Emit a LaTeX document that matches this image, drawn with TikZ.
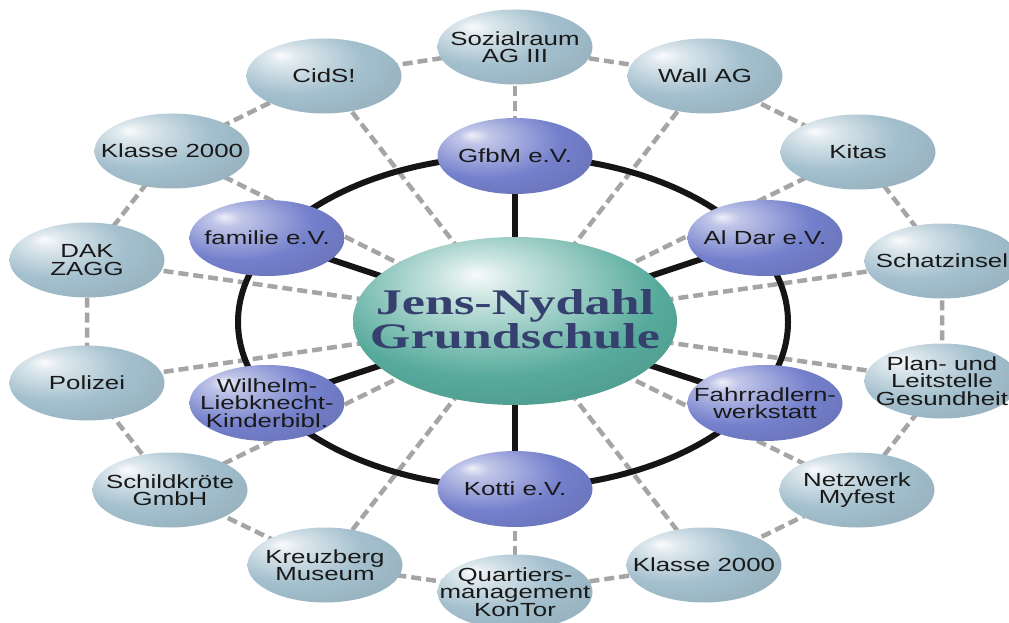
\documentclass[tikz,border=0pt]{standalone}
\usepackage{fontspec}
\setsansfont{Liberation Sans}[FakeStretch=1.36]
\newfontfamily\titlefont{Liberation Serif}[FakeStretch=1.45]
\usetikzlibrary{shapes.geometric}
\definecolor{oc}{RGB}{164,192,206}
\definecolor{ic}{RGB}{116,128,204}
\definecolor{cc}{RGB}{86,170,156}
\definecolor{dashgray}{RGB}{165,165,165}
\definecolor{ringblack}{RGB}{22,20,20}
\definecolor{titleblue}{RGB}{54,64,110}
\pgfdeclareradialshading{outershade}{\pgfpoint{-14bp}{14bp}}{color(0bp)=(white!95!oc); color(5bp)=(white!65!oc); color(22bp)=(oc); color(45bp)=(oc!88!black); color(75bp)=(oc!80!black)}
\pgfdeclareradialshading{innershade}{\pgfpoint{-14bp}{14bp}}{color(0bp)=(white!88!ic); color(5bp)=(white!55!ic); color(24bp)=(ic); color(45bp)=(ic!85!black); color(75bp)=(ic!78!black)}
\pgfdeclareradialshading{centershade}{\pgfpoint{-6bp}{14bp}}{color(0bp)=(white!95!cc); color(6bp)=(white!70!cc); color(26bp)=(cc); color(46bp)=(cc!82!black); color(75bp)=(cc!75!black)}
\pgfdeclarelayer{dashlayer}
\pgfdeclarelayer{ringlayer}
\pgfsetlayers{dashlayer,ringlayer,main}
\begin{document}
\begin{tikzpicture}[x=1pt,y=-1pt,
  basetext/.style={align=center, text=black!90, inner sep=0pt, font=\sffamily\fontsize{19}{17.5}\selectfont},
  outernode/.style={ellipse, shading=outershade, minimum width=155pt, minimum height=75pt, inner sep=0pt, label={[basetext]center:#1}},
  innernode/.style={ellipse, shading=innershade, minimum width=155pt, minimum height=76pt, inner sep=0pt, label={[basetext]center:#1}},
  cnode/.style={ellipse, shading=centershade, minimum width=324pt, minimum height=168pt, inner sep=0pt},
  titletext/.style={align=center, font=\titlefont\bfseries\fontsize{36}{34}\selectfont},
  dashline/.style={draw=dashgray, line width=4.5pt, dash pattern=on 10pt off 5pt},
  blackline/.style={draw=ringblack, line width=6pt}]
\useasboundingbox (0,0) rectangle (1009,623);
% center
\node[cnode] (c) at (515,321) {};
\node[titletext, text=titleblue] (title) at (515,319) {Jens-Nydahl\\Grundschule};
% inner nodes
\node[innernode={GfbM e.V.}] (gfbm) at (515,156) {};
\node[innernode={Al Dar e.V.}] (aldar) at (765,238) {};
\node[innernode={Fahrradlern-\\werkstatt}] (fahr) at (765,403) {};
\node[innernode={Kotti e.V.}] (kotti) at (515,489) {};
\node[innernode={Wilhelm-\\Liebknecht-\\Kinderbibl.}] (wilh) at (267,403) {};
\node[innernode={familie e.V.}] (fam) at (267,238) {};
% outer nodes
\node[outernode={Sozialraum\\AG III}] (soz) at (515,47) {};
\node[outernode={Wall AG}] (wall) at (705,76) {};
\node[outernode={Kitas}] (kitas) at (858,152) {};
\node[outernode={Schatzinsel}] (schatz) at (942,261) {};
\node[outernode={Plan- und\\Leitstelle\\Gesundheit}] (plan) at (942,381) {};
\node[outernode={Netzwerk\\Myfest}] (netz) at (857,490) {};
\node[outernode={Klasse 2000}] (klr) at (704,565) {};
\node[outernode={Quartiers-\\management\\KonTor}] (quart) at (515,592) {};
\node[outernode={Kreuzberg\\Museum}] (kreuz) at (325,565) {};
\node[outernode={Schildkröte\\GmbH}] (schild) at (170,490) {};
\node[outernode={Polizei}] (pol) at (87,383) {};
\node[outernode={DAK\\ZAGG}] (dak) at (87,260) {};
\node[outernode={Klasse 2000}] (kll) at (172,151) {};
\node[outernode={CidS!}] (cids) at (324,76) {};
\begin{pgfonlayer}{dashlayer}
  \foreach \o in {soz,wall,kitas,schatz,plan,netz,klr,quart,kreuz,schild,pol,dak,kll,cids}
    \draw[dashline] (c.center) -- (\o.center);
  \draw[dashline] (soz.center) -- (wall.center) -- (kitas.center) -- (schatz.center)
    -- (plan.center) -- (netz.center) -- (klr.center) -- (quart.center) -- (kreuz.center)
    -- (schild.center) -- (pol.center) -- (dak.center) -- (kll.center) -- (cids.center) -- cycle;
\end{pgfonlayer}
\begin{pgfonlayer}{ringlayer}
  \draw[blackline] (513,322) ellipse [x radius=275pt, y radius=166pt];
  \foreach \i in {gfbm,aldar,fahr,kotti,wilh,fam}
    \draw[blackline] (c.center) -- (\i.center);
\end{pgfonlayer}
\end{tikzpicture}
\end{document}
